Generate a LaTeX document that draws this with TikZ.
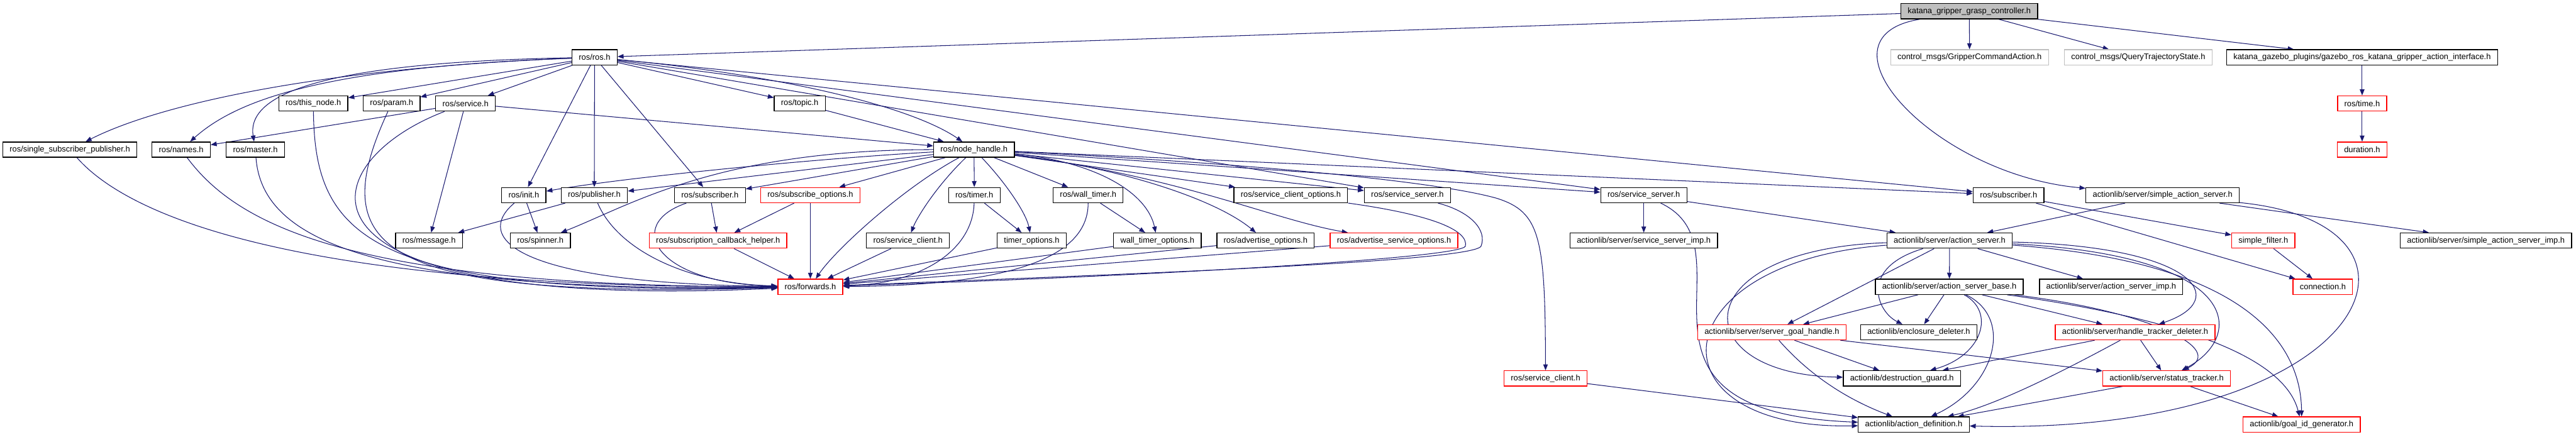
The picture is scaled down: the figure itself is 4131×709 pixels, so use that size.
\documentclass[tikz,border=0pt]{standalone}
\usepackage{fontspec}
\setmainfont{Liberation Sans}
\usetikzlibrary{arrows.meta}
\definecolor{edgeblue}{HTML}{191970}
\definecolor{truncred}{HTML}{FF0000}
\definecolor{rootgray}{HTML}{BFBFBF}
\pgfdeclarelayer{background}
\pgfsetlayers{background,main}

\begin{document}
\begin{tikzpicture}[
  x=0.02cm, y=-0.02cm,
  file/.style={draw=black, line width=0.75pt, fill=white, inner xsep=6.2pt, inner ysep=0pt,
               minimum height=13.9pt, font=\fontsize{7.4pt}{8pt}\selectfont},
  trunc/.style={file, draw=truncred},
  extfile/.style={file, draw=rootgray},
  root/.style={file, fill=rootgray},
  dep/.style={-{Triangle[length=5.5pt,width=4.2pt]}, line width=0.6pt, color=edgeblue}
]
\useasboundingbox (0,0) rectangle (4131,709);

% rows 0-3
\node[root] (ctrl) at (3158,18) {katana\_gripper\_grasp\_controller.h};
\node[file] (rosh) at (953.5,92) {ros/ros.h};
\node[extfile] (gripcmd) at (3158.5,92) {control\_msgs/GripperCommandAction.h};
\node[extfile] (querytraj) at (3429,92) {control\_msgs/QueryTrajectoryState.h};
\node[file] (gazeboif) at (3788,92) {katana\_gazebo\_plugins/gazebo\_ros\_katana\_gripper\_action\_interface.h};
\node[file] (thisnode) at (502.5,166) {ros/this\_node.h};
\node[file] (param) at (628,166) {ros/param.h};
\node[file] (service) at (746.5,166) {ros/service.h};
\node[file] (topic) at (1282.5,166) {ros/topic.h};
\node[trunc] (rostime) at (3788,166) {ros/time.h};
\node[file] (ssp) at (112,240) {ros/single\_subscriber\_publisher.h};
\node[file] (names) at (290.5,240) {ros/names.h};
\node[file] (master) at (409.5,240) {ros/master.h};
\node[file] (nodehandle) at (1562,240) {ros/node\_handle.h};
\node[trunc] (duration) at (3788,240) {duration.h};

% row 4
\node[file] (init) at (840,313) {ros/init.h};
\node[file] (publisher) at (953,313) {ros/publisher.h};
\node[file] (subscriber) at (1138.5,313) {ros/subscriber.h};
\node[trunc] (subopts) at (1299.5,313) {ros/subscribe\_options.h};
\node[file] (timer) at (1562.5,313) {ros/timer.h};
\node[file] (walltimer) at (1745,313) {ros/wall\_timer.h};
\node[file] (srvclientopts) at (2070,313) {ros/service\_client\_options.h};
\node[file] (srvserver) at (2257,313) {ros/service\_server.h};
\node[file] (alsrvserver) at (2636,313) {ros/service\_server.h};
\node[file] (mfsubscriber) at (3221,313) {ros/subscriber.h};
\node[file] (simpleas) at (3468,313) {actionlib/server/simple\_action\_server.h};

% row 5
\node[file] (message) at (688,386) {ros/message.h};
\node[file] (spinner) at (866.5,386) {ros/spinner.h};
\node[trunc] (subcbhelper) at (1151.5,386) {ros/subscription\_callback\_helper.h};
\node[file] (srvclient) at (1456,386) {ros/service\_client.h};
\node[file] (timeropts) at (1654.5,386) {timer\_options.h};
\node[file] (walltimeropts) at (1856,386) {wall\_timer\_options.h};
\node[file] (advopts) at (2029.5,386) {ros/advertise\_options.h};
\node[trunc] (advsrvopts) at (2235.5,386) {ros/advertise\_service\_options.h};
\node[file] (srvserverimp) at (2636,386) {actionlib/server/service\_server\_imp.h};
\node[file] (actionserver) at (3126.5,386) {actionlib/server/action\_server.h};
\node[trunc] (simplefilter) at (3629.5,386) {simple\_filter.h};
\node[file] (simpleasimp) at (3986.5,386) {actionlib/server/simple\_action\_server\_imp.h};

% rows 6-9
\node[trunc] (forwards) at (1299.5,460) {ros/forwards.h};
\node[file] (asbase) at (3126,460) {actionlib/server/action\_server\_base.h};
\node[file] (asimp) at (3385.5,460) {actionlib/server/action\_server\_imp.h};
\node[trunc] (connection) at (3725,460) {connection.h};
\node[trunc] (goalhandle) at (2841.5,533) {actionlib/server/server\_goal\_handle.h};
\node[file] (enclosure) at (3077,533) {actionlib/enclosure\_deleter.h};
\node[trunc] (htdeleter) at (3424,533) {actionlib/server/handle\_tracker\_deleter.h};
\node[trunc] (alsrvclient) at (2478.5,607) {ros/service\_client.h};
\node[file] (destguard) at (3050,607) {actionlib/destruction\_guard.h};
\node[trunc] (statustracker) at (3474.5,607) {actionlib/server/status\_tracker.h};
\node[file] (actiondef) at (3069,681) {actionlib/action\_definition.h};
\node[trunc] (goalid) at (3691,681) {actionlib/goal\_id\_generator.h};

\begin{pgfonlayer}{background}
% controller and gazebo plugin
\draw[dep] (ctrl) -- (rosh);
\draw[dep] (ctrl) -- (gripcmd);
\draw[dep] (ctrl) -- (querytraj);
\draw[dep] (ctrl) -- (gazeboif);
\draw[dep] (ctrl) .. controls (2900,60) and (3100,280) .. (simpleas);
\draw[dep] (gazeboif) -- (rostime);
\draw[dep] (rostime) -- (duration);

% ros/ros.h
\draw[dep] (rosh) .. controls (500,110) and (250,170) .. (ssp);
\draw[dep] (rosh) .. controls (520,108) and (380,160) .. (names);
\draw[dep] (rosh) .. controls (520,100) and (395,150) .. (master);
\draw[dep] (rosh) -- (thisnode);
\draw[dep] (rosh) -- (param);
\draw[dep] (rosh) -- (service);
\draw[dep] (rosh) -- (topic);
\draw[dep] (rosh) .. controls (1250,120) and (1460,170) .. (nodehandle);
\draw[dep] (rosh) -- (init);
\draw[dep] (rosh) -- (publisher);
\draw[dep] (rosh) -- (subscriber);
\draw[dep] (rosh) -- (srvserver);
\draw[dep] (rosh) -- (alsrvserver);
\draw[dep] (rosh) -- (mfsubscriber);

% service, topic and the left files
\draw[dep] (service) -- (names);
\draw[dep] (service) -- (nodehandle);
\draw[dep] (service) -- (message);
\draw[dep] (service) .. controls (500,260) and (420,500) .. (forwards);
\draw[dep] (topic) -- (nodehandle);
\draw[dep] (ssp) .. controls (200,340) and (450,462) .. (forwards);
\draw[dep] (names) .. controls (380,360) and (560,460) .. (forwards);
\draw[dep] (master) .. controls (420,380) and (580,470) .. (forwards);
\draw[dep] (thisnode) .. controls (505,380) and (590,475) .. (forwards);
\draw[dep] (param) .. controls (520,400) and (600,480) .. (forwards);

% second row ros files
\draw[dep] (init) -- (spinner);
\draw[dep] (init) .. controls (760,380) and (820,455) .. (forwards);
\draw[dep] (publisher) -- (message);
\draw[dep] (publisher) .. controls (990,400) and (1100,455) .. (forwards);
\draw[dep] (subscriber) -- (subcbhelper);
\draw[dep] (subscriber) .. controls (1000,360) and (1050,455) .. (forwards);
\draw[dep] (subopts) -- (subcbhelper);
\draw[dep] (subopts) -- (forwards);
\draw[dep] (subcbhelper) -- (forwards);

% ros/node_handle.h
\draw[dep] (nodehandle) .. controls (1300,255) and (1000,285) .. (init);
\draw[dep] (nodehandle) -- (publisher);
\draw[dep] (nodehandle) -- (subscriber);
\draw[dep] (nodehandle) -- (subopts);
\draw[dep] (nodehandle) .. controls (1150,240) and (1010,330) .. (spinner);
\draw[dep] (nodehandle) .. controls (1450,300) and (1340,400) .. (forwards);
\draw[dep] (nodehandle) -- (timer);
\draw[dep] (nodehandle) .. controls (1500,300) and (1470,350) .. (srvclient);
\draw[dep] (nodehandle) .. controls (1610,290) and (1645,340) .. (timeropts);
\draw[dep] (nodehandle) -- (walltimer);
\draw[dep] (nodehandle) .. controls (1760,260) and (1840,310) .. (walltimeropts);
\draw[dep] (nodehandle) .. controls (1800,270) and (1950,320) .. (advopts);
\draw[dep] (nodehandle) .. controls (1900,285) and (2040,352) .. (advsrvopts);
\draw[dep] (nodehandle) -- (srvclientopts);
\draw[dep] (nodehandle) -- (srvserver);
\draw[dep] (nodehandle) -- (alsrvserver);
\draw[dep] (nodehandle) -- (mfsubscriber);
\draw[dep] (nodehandle) .. controls (2000,262) and (2300,290) .. (2400,318)
                       .. controls (2470,340) and (2478,380) .. (alsrvclient);

% timers and options
\draw[dep] (timer) -- (timeropts);
\draw[dep] (timer) .. controls (1560,400) and (1480,455) .. (forwards);
\draw[dep] (walltimer) -- (walltimeropts);
\draw[dep] (walltimer) .. controls (1745,420) and (1600,458) .. (forwards);
\draw[dep] (srvclient) -- (forwards);
\draw[dep] (timeropts) -- (forwards);
\draw[dep] (walltimeropts) -- (forwards);
\draw[dep] (advopts) -- (forwards);
\draw[dep] (advsrvopts) -- (forwards);
\draw[dep] (srvclientopts) .. controls (2300,345) and (2355,370) .. (2350,395)
                          .. controls (2340,415) and (1800,445) .. (forwards);
\draw[dep] (srvserver) .. controls (2360,340) and (2385,370) .. (2375,395)
                      .. controls (2360,420) and (1800,440) .. (forwards);

% actionlib service server
\draw[dep] (alsrvserver) -- (srvserverimp);
\draw[dep] (alsrvserver) -- (actionserver);
\draw[dep] (alsrvserver) .. controls (2820,400) and (2560,660) .. (actiondef);
\draw[dep] (alsrvclient) -- (actiondef);

% action_server.h
\draw[dep] (actionserver) -- (asbase);
\draw[dep] (actionserver) -- (asimp);
\draw[dep] (actionserver) -- (goalhandle);
\draw[dep] (actionserver) .. controls (2980,430) and (3010,500) .. (enclosure);
\draw[dep] (actionserver) .. controls (2700,400) and (2700,600) .. (destguard);
\draw[dep] (actionserver) .. controls (2660,420) and (2640,690) .. (actiondef);
\draw[dep] (actionserver) .. controls (3520,395) and (3580,480) .. (htdeleter);
\draw[dep] (actionserver) .. controls (3600,410) and (3600,540) .. (statustracker);
\draw[dep] (actionserver) .. controls (3600,420) and (3690,550) .. (goalid);

% action_server_base.h
\draw[dep] (asbase) -- (goalhandle);
\draw[dep] (asbase) -- (enclosure);
\draw[dep] (asbase) .. controls (3200,500) and (3180,570) .. (destguard);
\draw[dep] (asbase) .. controls (3230,510) and (3200,620) .. (actiondef);
\draw[dep] (asbase) -- (htdeleter);
\draw[dep] (asbase) .. controls (3450,500) and (3570,560) .. (statustracker);
\draw[dep] (asbase) .. controls (3450,505) and (3660,560) .. (goalid);

% handles and trackers
\draw[dep] (goalhandle) -- (destguard);
\draw[dep] (goalhandle) .. controls (2900,600) and (2960,640) .. (actiondef);
\draw[dep] (goalhandle) -- (statustracker);
\draw[dep] (htdeleter) -- (destguard);
\draw[dep] (htdeleter) .. controls (3300,600) and (3200,650) .. (actiondef);
\draw[dep] (htdeleter) -- (statustracker);
\draw[dep] (statustracker) -- (actiondef);
\draw[dep] (statustracker) -- (goalid);

% simple action server, message filters
\draw[dep] (simpleas) -- (actionserver);
\draw[dep] (simpleas) -- (simpleasimp);
\draw[dep] (simpleas) .. controls (3950,360) and (3800,700) .. (actiondef);
\draw[dep] (mfsubscriber) -- (simplefilter);
\draw[dep] (mfsubscriber) -- (connection);
\draw[dep] (simplefilter) -- (connection);
\end{pgfonlayer}
\end{tikzpicture}
\end{document}
